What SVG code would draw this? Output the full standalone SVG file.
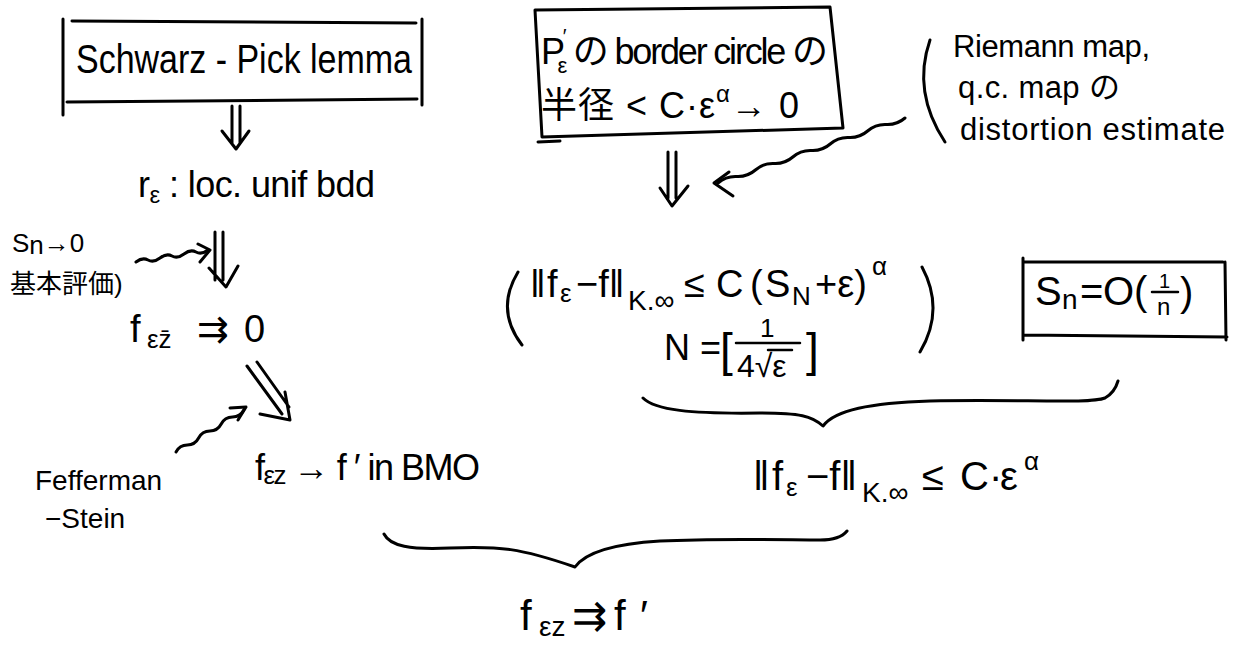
<svg xmlns="http://www.w3.org/2000/svg" width="1242" height="646" viewBox="0 0 1242 646" font-size="34">
<style>
.t{font-family:"Liberation Sans","Noto Sans CJK JP",sans-serif;fill:#000}
.ln{fill:none;stroke:#000;stroke-width:3;stroke-linecap:round;stroke-linejoin:round}
.th{fill:none;stroke:#000;stroke-width:2.5;stroke-linecap:round;stroke-linejoin:round}
</style>
<rect width="1242" height="646" fill="#fff"/>

<g id="schwarz-pick">
  <path class="ln" d="M72,21 L416,23 M63,19 L63,115 M422,19 L422,105 M67,102 L417,99"/>
  <text class="t" x="76" y="73" font-size="40" textLength="336" lengthAdjust="spacingAndGlyphs">Schwarz - Pick lemma</text>
</g>

<g id="r-eps-bounded">
  <text class="t" x="138" y="197" font-size="36" textLength="237">r<tspan font-size="24" dy="6">ε</tspan><tspan dy="-6"> : loc. unif bdd</tspan></text>
</g>

<g id="sn-basic-estimate">
  <text class="t" x="12" y="252" font-size="26">S<tspan dy="2">n</tspan><tspan dy="-2">→0</tspan></text>
  <text class="t" x="10" y="293" font-size="26">基本評価)</text>
</g>

<g id="f-ez-bar">
  <text class="t" y="342" font-size="38"><tspan x="130">f</tspan><tspan x="147" dy="6" font-size="26">εz̄</tspan><tspan x="197" dy="-6">⇉</tspan><tspan x="244">0</tspan></text>
</g>

<g id="fefferman-stein">
  <text class="t" x="35" y="490" font-size="28">Fefferman</text>
  <text class="t" x="45" y="528" font-size="28">−Stein</text>
</g>

<g id="f-ez-bmo">
  <text class="t" x="255" y="480" font-size="36" textLength="225">f<tspan font-size="26" dy="4">εz</tspan><tspan dy="-4"> → f ′ in BMO</tspan></text>
</g>

<g id="border-circle">
  <path class="ln" d="M535,10 L830,7 L843,128 L542,137 M535,10 L542,137 M538,142 L560,141"/>
  <text class="t" x="541" y="64" font-size="36" textLength="287">P<tspan font-size="20" dx="0" dy="-21">′</tspan><tspan font-size="22" dx="-7" dy="30">ε</tspan><tspan dy="-9"> の border circle の</tspan></text>
  <text class="t" x="541" y="118" font-size="36" textLength="258">半径 &lt; C·ε<tspan font-size="24" dy="-16">α</tspan><tspan dy="16">→ 0</tspan></text>
</g>

<g id="riemann-qc">
  <path class="ln" d="M930,40 Q912,92 945,142"/>
  <text class="t" x="953" y="57" font-size="31" textLength="197">Riemann map,</text>
  <text class="t" x="958" y="98" font-size="31" textLength="162">q.c. map の</text>
  <text class="t" x="960" y="140" font-size="31" textLength="265">distortion estimate</text>
</g>

<g id="norm-estimate">
  <path class="ln" d="M518,272 Q495,310 522,345 M922,267 Q945,310 920,352"/>
  <text class="t" y="297" font-size="38"><tspan x="530">‖</tspan><tspan x="547">f</tspan><tspan x="560" dy="5" font-size="26">ε</tspan><tspan x="576" dy="-5">−f‖</tspan><tspan x="628" dy="13" font-size="28">K.∞</tspan><tspan x="684" dy="-13">≤</tspan><tspan x="716">C</tspan><tspan x="750">(</tspan><tspan x="765">S</tspan><tspan x="792" dy="8" font-size="26">N</tspan><tspan x="815" dy="-8">+ε)</tspan><tspan x="872" dy="-22" font-size="26">α</tspan></text>
  <text class="t" x="664" y="360" font-size="36">N =</text>
  <text class="t" x="720" y="366" font-size="46">[</text>
  <text class="t" x="760" y="337" font-size="26">1</text>
  <path class="th" d="M736,343 L800,343 M768,350 L792,350"/>
  <text class="t" x="737" y="377" font-size="32">4√ε</text>
  <text class="t" x="806" y="366" font-size="46">]</text>
</g>

<g id="sn-order">
  <path class="ln" d="M1023,262 L1223,262 M1023,258 L1023,340 M1225,262 L1226,340 M1023,335 L1227,337"/>
  <path class="th" d="M1152,292 L1178,292"/>
  <text class="t" y="305" font-size="40"><tspan x="1035">S</tspan><tspan x="1062" dy="4" font-size="28">n</tspan><tspan x="1080" dy="-4">=</tspan><tspan x="1103">O(</tspan><tspan x="1159" y="288" font-size="20">1</tspan><tspan x="1157" y="315" font-size="24">n</tspan><tspan x="1180" y="306">)</tspan></text>
</g>

<g id="uniform-estimate">
  <text class="t" y="490" font-size="40"><tspan x="753">‖</tspan><tspan x="772">f</tspan><tspan x="786" dy="6" font-size="26">ε</tspan><tspan x="806" dy="-6">−f‖</tspan><tspan x="862" dy="12" font-size="28">K.∞</tspan><tspan x="922" dy="-12">≤</tspan><tspan x="960">C·</tspan><tspan x="1000">ε</tspan><tspan x="1024" dy="-20" font-size="26">α</tspan></text>
</g>

<g id="final">
  <text class="t" y="630" font-size="42"><tspan x="520">f</tspan><tspan x="539" dy="6" font-size="28">εz</tspan><tspan x="572" dy="-6">⇉</tspan><tspan x="614">f</tspan><tspan x="640">′</tspan></text>
</g>

<g id="connectors">
  <path class="ln" d="M232,106 L232,143 M240,106 L240,143 M222,131 L236,149 L249,131"/>
  <path class="ln" d="M215,232 L215,280 M223,232 L223,280 M209,268 L226,287 L238,266"/>
  <path class="ln" d="M247,366 L282,414 M257,362 L289,407 M260,414 L290,420 L285,392"/>
  <path class="ln" d="M668,152 L668,198 M676,152 L676,198 M660,188 L672,206 L688,186"/>
  <path class="ln" d="M136,262 q6.5,-5 12,-2 t12,-2 t12,-2 t12,-2 t12,-2 t12,-2"/>
  <path class="ln" d="M198,244 L210,250 L200,262"/>
  <path class="ln" d="M176,452 q3.6,-6.9 11.3,-7 t11.3,-7 t11.3,-7 t11.3,-7 t11.3,-7 t11.3,-7"/>
  <path class="ln" d="M230,408 L246,407 L238,420"/>
  <path class="ln" d="M905,118 q-8,7 -18.7,6.5 t-18.7,6.5 t-18.7,6.5 t-18.7,6.5 t-18.7,6.5 t-18.7,6.5 t-18.7,6.5 t-18.7,6.5 t-18.7,6.5 t-18.7,6.5"/>
  <path class="ln" d="M729,172 L714,183 L733,196"/>
  <path class="ln" d="M643,398 C655,410 690,414 760,413 C800,413 812,416 823,426 C835,410 870,403 930,401 C1020,399 1090,404 1105,398 C1112,394 1116,388 1118,381"/>
  <path class="ln" d="M384,534 C390,546 410,550 450,548 C500,546 520,548 575,567 C585,553 610,544 660,541 C720,538 790,540 820,540 C835,540 843,536 847,531"/>
</g>
</svg>
